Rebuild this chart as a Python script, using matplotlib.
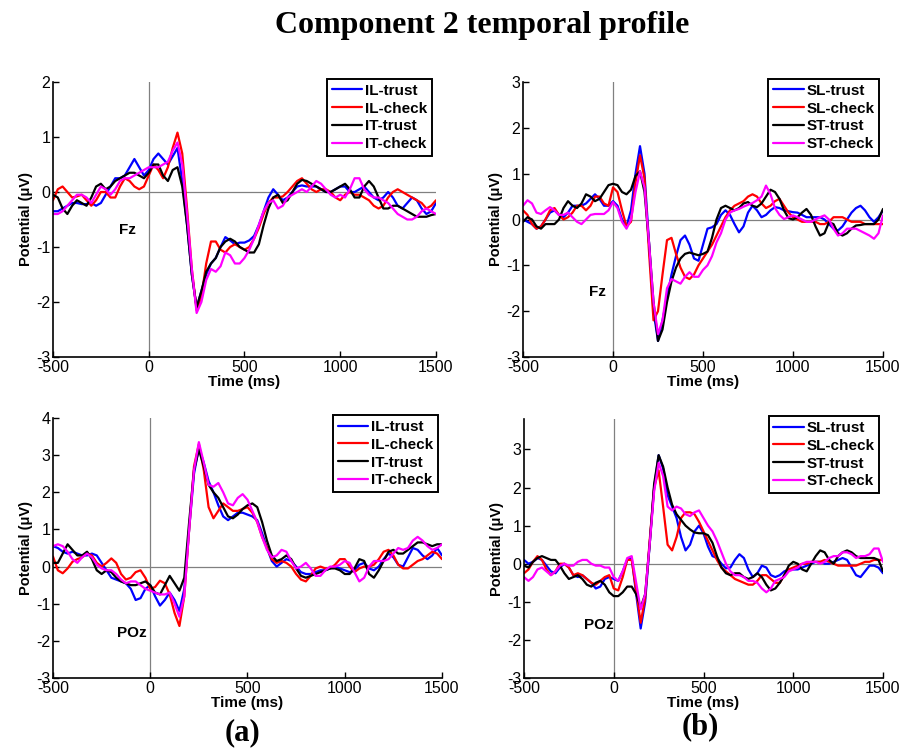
import numpy as np
import matplotlib
matplotlib.use("Agg")
import matplotlib.pyplot as plt

plt.rcParams['font.family'] = ['Liberation Sans', 'DejaVu Sans']
plt.rcParams['axes.unicode_minus'] = False

# time axis (ms), 25 ms sampling
time_ms = np.arange(-500, 1501, 25)

# ---- Panel (a) top: Fz, IL / IT ----
fz_il_trust = [-0.35,-0.35,-0.3,-0.25,-0.2,-0.2,-0.22,-0.22,-0.2,-0.25,-0.2,-0.05,0.1,0.25,0.25,0.3,0.45,0.6,0.45,0.3,0.4,
               0.6,0.7,0.6,0.5,0.65,0.8,0.2,-0.6,-1.5,-2.1,-1.8,-1.5,-1.3,-1.2,-1.0,-0.82,-0.88,-0.95,-0.92,-0.92,
               -0.88,-0.8,-0.6,-0.35,-0.1,0.05,-0.05,-0.15,-0.1,0.0,0.1,0.12,0.1,0.1,0.1,0.05,0.0,0.0,0.05,0.1,
               0.1,0.0,0.0,0.05,0.1,0.0,-0.1,-0.15,-0.1,0.0,-0.1,-0.25,-0.3,-0.2,-0.1,-0.15,-0.3,-0.4,-0.35,-0.2]
fz_il_check = [-0.15,0.05,0.1,0.0,-0.1,-0.08,-0.05,-0.15,-0.25,-0.15,0.0,0.0,-0.1,-0.1,0.1,0.25,0.2,0.1,0.05,0.1,0.3,
               0.5,0.4,0.25,0.45,0.8,1.08,0.7,-0.3,-1.4,-2.15,-1.9,-1.3,-0.9,-0.9,-1.05,-1.1,-1.0,-0.95,-1.0,-1.05,
               -1.0,-0.85,-0.65,-0.4,-0.2,-0.1,-0.1,-0.08,0.0,0.1,0.2,0.25,0.15,0.05,0.0,0.05,0.05,0.0,-0.1,-0.15,
               -0.05,0.0,-0.05,-0.05,-0.1,-0.15,-0.25,-0.3,-0.25,-0.1,0.0,0.05,0.0,-0.05,-0.1,-0.15,-0.2,-0.3,-0.25,-0.15]
fz_it_trust = [-0.05,-0.1,-0.3,-0.4,-0.25,-0.15,-0.2,-0.25,-0.1,0.1,0.15,0.05,0.1,0.2,0.25,0.3,0.35,0.35,0.3,0.25,0.35,
               0.5,0.5,0.3,0.2,0.4,0.45,0.1,-0.6,-1.5,-2.1,-1.8,-1.45,-1.3,-1.2,-1.0,-0.9,-0.85,-0.9,-1.0,-1.05,
               -1.1,-1.1,-0.95,-0.6,-0.3,-0.1,-0.05,-0.2,-0.15,0.0,0.15,0.22,0.2,0.15,0.1,0.05,0.0,0.0,0.05,0.1,
               0.15,0.05,-0.1,-0.1,0.1,0.2,0.1,-0.1,-0.3,-0.3,-0.25,-0.25,-0.3,-0.35,-0.4,-0.45,-0.45,-0.45,-0.42,-0.4]
fz_it_check = [-0.4,-0.4,-0.35,-0.25,-0.15,-0.05,-0.05,-0.1,-0.2,-0.05,0.1,0.05,-0.05,0.05,0.2,0.25,0.25,0.3,0.35,0.4,0.45,
               0.45,0.45,0.5,0.55,0.75,0.9,0.5,-0.4,-1.4,-2.2,-2.0,-1.6,-1.4,-1.45,-1.35,-1.1,-1.15,-1.3,-1.3,-1.2,
               -1.05,-0.85,-0.6,-0.35,-0.2,-0.15,-0.3,-0.25,-0.1,-0.05,0.0,0.05,0.0,0.1,0.2,0.15,0.05,-0.05,-0.1,-0.05,
               -0.1,0.05,0.25,0.25,0.05,-0.05,-0.1,-0.1,-0.15,-0.2,-0.3,-0.4,-0.45,-0.5,-0.5,-0.45,-0.35,-0.3,-0.35,-0.4]

# ---- Panel (b) top: Fz, SL / ST ----
fz_sl_trust = [0.0,-0.05,-0.1,-0.2,-0.15,0.0,0.15,0.2,0.1,0.05,0.15,0.3,0.3,0.3,0.35,0.45,0.55,0.45,0.3,0.3,0.4,
               0.3,0.0,-0.15,0.2,1.0,1.6,1.0,-0.5,-2.0,-2.65,-2.2,-1.7,-1.2,-0.8,-0.45,-0.35,-0.55,-0.85,-0.9,-0.55,
               -0.2,-0.17,-0.1,0.1,0.2,0.1,-0.1,-0.28,-0.15,0.15,0.3,0.2,0.05,0.1,0.2,0.27,0.25,0.2,0.18,0.16,
               0.15,0.1,0.05,0.05,0.05,0.05,0.0,-0.1,-0.2,-0.24,-0.15,0.0,0.15,0.25,0.3,0.2,0.05,-0.05,0.05,0.2]
fz_sl_check = [0.2,0.1,-0.1,-0.2,-0.15,0.0,0.2,0.25,0.1,0.0,0.05,0.15,0.3,0.3,0.2,0.3,0.5,0.5,0.35,0.3,0.7,
               0.6,0.2,-0.15,-0.05,0.8,1.4,0.9,-0.7,-2.2,-2.0,-1.2,-0.45,-0.4,-0.75,-1.05,-1.25,-1.3,-1.2,-1.0,-0.85,
               -0.7,-0.55,-0.35,-0.15,0.05,0.2,0.3,0.35,0.4,0.5,0.55,0.5,0.35,0.25,0.3,0.4,0.45,0.3,0.15,0.05,
               0.0,-0.05,-0.05,-0.05,-0.05,-0.1,-0.1,-0.05,0.05,0.05,0.05,0.0,-0.05,-0.05,-0.05,-0.1,-0.1,-0.1,-0.1,-0.1]
fz_st_trust = [-0.05,0.05,0.0,-0.15,-0.2,-0.1,-0.1,-0.1,0.0,0.25,0.4,0.3,0.25,0.35,0.55,0.5,0.4,0.45,0.6,0.75,0.78,
               0.75,0.6,0.55,0.65,0.95,1.05,0.6,-0.5,-1.8,-2.65,-2.4,-1.8,-1.35,-1.05,-0.85,-0.75,-0.72,-0.75,-0.78,-0.75,
               -0.7,-0.4,0.0,0.25,0.3,0.25,0.2,0.25,0.35,0.38,0.3,0.27,0.35,0.5,0.65,0.6,0.45,0.2,0.03,0.0,
               0.05,0.15,0.23,0.1,-0.15,-0.35,-0.3,-0.06,-0.1,-0.3,-0.35,-0.3,-0.2,-0.13,-0.12,-0.1,-0.1,-0.1,0.0,0.23]
fz_st_check = [0.3,0.42,0.35,0.15,0.12,0.2,0.27,0.2,0.1,0.1,0.15,0.05,-0.05,-0.1,0.0,0.1,0.12,0.12,0.12,0.2,0.38,
               0.25,-0.05,-0.2,0.0,0.6,1.05,0.7,-0.5,-1.8,-2.5,-2.2,-1.5,-1.3,-1.35,-1.4,-1.25,-1.15,-1.25,-1.25,-1.1,
               -1.0,-0.8,-0.5,-0.3,0.0,0.15,0.2,0.23,0.28,0.32,0.36,0.42,0.5,0.74,0.55,0.25,0.1,0.01,0.05,0.09,
               0.05,0.0,-0.05,-0.05,0.0,0.05,0.09,0.0,-0.2,-0.35,-0.3,-0.2,-0.2,-0.2,-0.25,-0.3,-0.35,-0.42,-0.3,0.09]

# ---- Panel (a) bottom: POz, IL / IT ----
poz_il_trust = [0.55,0.5,0.4,0.35,0.4,0.35,0.3,0.3,0.35,0.3,0.1,-0.1,-0.3,-0.35,-0.4,-0.45,-0.6,-0.9,-0.85,-0.6,-0.5,
                -0.8,-1.05,-0.9,-0.7,-0.9,-1.2,-0.6,1.0,2.5,3.2,2.8,2.3,2.0,1.65,1.35,1.25,1.35,1.45,1.45,1.4,
                1.35,1.25,0.9,0.5,0.15,0.0,0.1,0.2,0.15,0.0,-0.15,-0.2,-0.2,-0.15,-0.1,-0.1,-0.05,0.0,-0.05,-0.1,
                -0.15,-0.1,0.05,0.1,-0.05,-0.1,0.0,0.2,0.35,0.25,0.05,0.0,0.25,0.5,0.45,0.3,0.2,0.3,0.5,0.3]
poz_il_check = [0.27,-0.1,-0.18,-0.05,0.13,0.2,0.25,0.36,0.3,0.1,0.0,0.1,0.22,0.1,-0.2,-0.35,-0.3,-0.15,-0.1,-0.3,-0.6,
                -0.55,-0.38,-0.45,-0.75,-1.25,-1.6,-0.8,1.0,2.7,3.3,2.6,1.6,1.3,1.5,1.7,1.6,1.5,1.5,1.55,1.6,
                1.45,1.2,0.8,0.5,0.2,0.1,0.15,0.1,0.0,-0.2,-0.35,-0.4,-0.25,-0.05,0.0,-0.05,-0.05,0.05,0.2,0.2,
                0.0,-0.15,-0.05,0.0,0.0,0.05,0.2,0.4,0.45,0.3,0.05,-0.05,-0.05,0.05,0.15,0.2,0.3,0.4,0.35,0.2]
poz_it_trust = [0.1,0.1,0.35,0.6,0.45,0.3,0.3,0.4,0.2,-0.1,-0.2,-0.1,-0.15,-0.3,-0.4,-0.45,-0.5,-0.5,-0.45,-0.4,-0.5,
                -0.7,-0.75,-0.5,-0.25,-0.45,-0.65,-0.3,1.2,2.6,3.15,2.7,2.2,2.0,1.85,1.6,1.35,1.3,1.4,1.55,1.65,
                1.7,1.6,1.2,0.7,0.3,0.15,0.2,0.3,0.2,-0.05,-0.25,-0.3,-0.25,-0.2,-0.15,-0.1,-0.05,-0.05,-0.1,-0.2,
                -0.2,-0.05,0.2,0.15,-0.2,-0.3,-0.1,0.15,0.4,0.45,0.35,0.35,0.45,0.55,0.65,0.65,0.6,0.55,0.6,0.6]
poz_it_check = [0.55,0.6,0.55,0.4,0.2,0.1,0.25,0.35,0.25,0.05,-0.05,-0.1,-0.1,-0.2,-0.35,-0.45,-0.4,-0.4,-0.5,-0.6,-0.65,
                -0.7,-0.75,-0.75,-0.7,-1.0,-1.35,-0.8,1.0,2.6,3.35,2.8,2.2,2.15,2.25,2.0,1.7,1.65,1.85,1.95,1.8,
                1.5,1.2,0.8,0.45,0.25,0.3,0.45,0.4,0.15,-0.05,0.0,0.1,-0.05,-0.25,-0.25,-0.1,0.0,0.0,0.05,0.15,
                0.1,-0.15,-0.4,-0.3,0.0,0.15,0.15,0.15,0.2,0.35,0.5,0.45,0.5,0.7,0.8,0.7,0.55,0.45,0.5,0.6]

# ---- Panel (b) bottom: POz, SL / ST ----
poz_sl_trust = [0.1,0.0,0.05,0.15,0.1,-0.05,-0.2,-0.25,-0.1,0.0,-0.1,-0.3,-0.35,-0.3,-0.4,-0.5,-0.65,-0.6,-0.4,-0.35,-0.4,
                -0.45,-0.2,0.1,0.15,-0.8,-1.7,-1.0,0.5,2.0,2.85,2.5,1.8,1.5,1.2,0.7,0.35,0.5,0.85,1.0,0.8,
                0.45,0.2,0.15,0.0,-0.12,-0.1,0.1,0.25,0.15,-0.15,-0.35,-0.25,-0.05,-0.1,-0.3,-0.35,-0.3,-0.2,-0.15,-0.15,
                -0.15,-0.1,-0.05,0.0,0.05,0.05,0.0,0.0,0.05,0.1,0.15,0.1,-0.1,-0.3,-0.35,-0.2,-0.05,-0.05,-0.1,-0.25]
poz_sl_check = [-0.25,-0.15,0.05,0.2,0.1,-0.15,-0.3,-0.2,0.0,0.0,-0.1,-0.3,-0.25,-0.3,-0.4,-0.5,-0.55,-0.45,-0.35,-0.3,-0.65,
                -0.7,-0.35,0.1,0.1,-0.7,-1.55,-0.9,0.6,2.0,2.45,1.5,0.5,0.35,0.7,1.2,1.35,1.35,1.3,1.1,0.85,
                0.6,0.35,0.1,-0.1,-0.2,-0.3,-0.4,-0.45,-0.5,-0.55,-0.55,-0.45,-0.3,-0.3,-0.4,-0.5,-0.5,-0.3,-0.15,-0.1,
                -0.05,0.0,0.0,0.05,0.05,0.05,0.1,0.05,0.0,-0.05,-0.05,-0.05,-0.05,-0.05,0.0,0.05,0.05,0.1,0.1,0.1]
poz_st_trust = [-0.05,-0.1,0.05,0.15,0.2,0.15,0.1,0.1,-0.05,-0.25,-0.4,-0.35,-0.3,-0.4,-0.55,-0.6,-0.5,-0.45,-0.55,-0.75,-0.85,
                -0.85,-0.75,-0.6,-0.6,-0.8,-1.15,-0.8,0.5,2.1,2.85,2.55,2.0,1.55,1.3,1.15,1.0,0.9,0.82,0.8,0.8,
                0.75,0.55,0.2,-0.1,-0.25,-0.3,-0.25,-0.25,-0.35,-0.4,-0.35,-0.25,-0.35,-0.55,-0.7,-0.65,-0.5,-0.3,-0.05,0.05,
                0.0,-0.15,-0.2,0.0,0.2,0.35,0.3,0.1,0.0,0.2,0.3,0.35,0.3,0.2,0.15,0.15,0.15,0.15,0.1,-0.2]
poz_st_check = [-0.35,-0.45,-0.35,-0.15,-0.1,-0.2,-0.3,-0.2,-0.05,0.0,-0.05,-0.05,0.05,0.1,0.1,0.0,-0.05,-0.05,-0.1,-0.1,-0.35,
                -0.45,-0.2,0.15,0.2,-0.5,-1.2,-0.8,0.5,1.9,2.65,2.3,1.5,1.4,1.5,1.45,1.3,1.25,1.35,1.4,1.2,
                1.0,0.85,0.6,0.3,0.0,-0.2,-0.3,-0.3,-0.35,-0.45,-0.45,-0.5,-0.65,-0.75,-0.65,-0.45,-0.4,-0.35,-0.2,-0.15,
                -0.1,0.0,0.05,0.05,0.05,0.0,0.05,0.15,0.2,0.2,0.3,0.3,0.25,0.15,0.2,0.2,0.25,0.4,0.4,0.05]

labels_a = ['IL-trust', 'IL-check', 'IT-trust', 'IT-check']
labels_b = ['SL-trust', 'SL-check', 'ST-trust', 'ST-check']
colors = ['#0000ff', '#ff0000', '#000000', '#ff00ff']
xticks = [-500, 0, 500, 1000, 1500]

W, H = 904, 748
fig = plt.figure(figsize=(W / 100, H / 100), dpi=100)


def rect(l, r, t, b):
    return [l / W, 1 - b / H, (r - l) / W, (b - t) / H]


panels = [
    (rect(53, 436, 82, 357), [fz_il_trust, fz_il_check, fz_it_trust, fz_it_check], labels_a,
     (-3, 2), list(range(-3, 3)), 'Fz', (-110, -0.7)),
    (rect(523, 883, 82, 357), [fz_sl_trust, fz_sl_check, fz_st_trust, fz_st_check], labels_b,
     (-3, 3), list(range(-3, 4)), 'Fz', (-85, -1.58)),
    (rect(53, 442, 418, 678), [poz_il_trust, poz_il_check, poz_it_trust, poz_it_check], labels_a,
     (-3, 4), list(range(-3, 5)), 'POz', (-95, -1.8)),
    (rect(524, 883, 419, 678), [poz_sl_trust, poz_sl_check, poz_st_trust, poz_st_check], labels_b,
     (-3, 3.8), list(range(-3, 4)), 'POz', (-85, -1.6)),
]

for pos, series, labels, ylim, yticks, site, site_xy in panels:
    ax = fig.add_axes(pos)
    ax.axhline(0, color='#808080', lw=0.9, zorder=1)
    ax.axvline(0, color='#808080', lw=0.9, zorder=1)
    for vals, c, lab in zip(series, colors, labels):
        ax.plot(time_ms, vals, color=c, lw=1.6, label=lab, zorder=2,
                solid_joinstyle='round', solid_capstyle='round')
    ax.set_xlim(-500, 1500)
    ax.set_ylim(*ylim)
    ax.set_xticks(xticks)
    ax.set_yticks(yticks)
    ax.spines['top'].set_visible(False)
    ax.spines['right'].set_visible(False)
    ax.spines['left'].set_linewidth(1.2)
    ax.spines['bottom'].set_linewidth(1.2)
    ax.tick_params(direction='in', length=4, width=1, labelsize=11.5, pad=2)
    ax.set_xlabel('Time (ms)', fontweight='bold', fontsize=11, labelpad=0)
    ax.set_ylabel('Potential (\u03bcV)', fontweight='bold', fontsize=10.5, labelpad=2)
    ax.text(site_xy[0], site_xy[1], site, fontweight='bold', fontsize=11, ha='center', va='center')
    leg = ax.legend(loc='upper right', bbox_to_anchor=(0.99, 1.01),
                    prop={'weight': 'bold', 'size': 11}, frameon=True, fancybox=False,
                    handlelength=2.0, handletextpad=0.2, labelspacing=0.25, borderpad=0.3,
                    borderaxespad=0.0)
    leg.get_frame().set_edgecolor('black')
    leg.get_frame().set_linewidth(1.4)
    leg.get_frame().set_alpha(1)

serif = ['Liberation Serif', 'DejaVu Serif']
fig.text(482 / W, 1 - 25 / H, 'Component 2 temporal profile', ha='center', va='center',
         fontsize=23, fontweight='bold', family=serif)
fig.text(243 / W, 1 - 733 / H, '(a)', ha='center', va='center',
         fontsize=22, fontweight='bold', family=serif)
fig.text(700 / W, 1 - 727 / H, '(b)', ha='center', va='center',
         fontsize=22, fontweight='bold', family=serif)

fig.savefig('out.png', dpi=100)
